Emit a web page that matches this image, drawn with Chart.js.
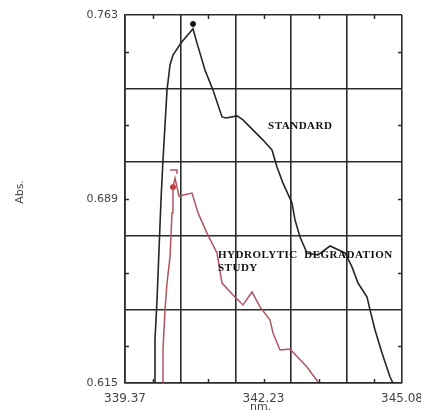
<!DOCTYPE html>
<html>
<head>
<meta charset="utf-8">
<script src="https://cdn.jsdelivr.net/npm/chart.js@4"></script>
<style>
  html, body { margin: 0; padding: 0; background: #fff; }
</style>
</head>
<body>
<canvas id="myChart" width="421" height="416"></canvas>
<script>
// axis range and tick labels (nm / Abs.)
const xMin = 339.37, xMax = 345.08;
const yMin = 0.615, yMax = 0.763;
const xTickLabels = ['339.37', '342.23', '345.08'];
const yTickLabels = ['0.615', '0.689', '0.763'];

// STANDARD spectrum
const standardX = [339.968, 339.988, 340.030, 340.071, 340.112, 340.153, 340.195, 340.236, 340.298, 340.359,
    340.524, 340.772, 340.854, 341.019, 341.184, 341.370, 341.452, 341.679, 341.802, 342.215,
    342.400, 342.503, 342.627, 342.812, 342.874, 342.978, 343.122, 343.349, 343.596, 343.905,
    344.049, 344.173, 344.359, 344.421, 344.524, 344.668, 344.833, 344.895];
const standardY = [0.615, 0.6323, 0.6484, 0.6685, 0.6886, 0.7047, 0.7188, 0.7328, 0.7429, 0.7469,
    0.7517, 0.7575, 0.7517, 0.7409, 0.7328, 0.7220, 0.7216, 0.7224, 0.7208, 0.7127,
    0.7087, 0.7019, 0.6954, 0.6874, 0.6806, 0.6737, 0.6673, 0.6665, 0.6701, 0.6673,
    0.6617, 0.6552, 0.6496, 0.6444, 0.6363, 0.6271, 0.6174, 0.615];

// HYDROLYTIC DEGRADATION STUDY spectrum
const hydroX = [340.133, 340.153, 340.195, 340.236, 340.298, 340.339, 340.359, 340.359, 340.401,
    340.483, 340.751, 340.875, 341.060, 341.266, 341.370, 341.596, 341.802, 341.988, 342.153,
    342.359, 342.421, 342.565, 342.771, 343.122, 343.349];
const hydroY = [0.615, 0.6283, 0.6444, 0.6552, 0.6657, 0.6834, 0.6898, 0.6938, 0.6974,
    0.6902, 0.6914, 0.6834, 0.6753, 0.6673, 0.6552, 0.6504, 0.6464, 0.6516, 0.6456,
    0.6403, 0.6351, 0.6283, 0.6287, 0.6214, 0.6154];
const hydroDashX = [340.298, 340.442, 340.442];
const hydroDashY = [0.7007, 0.7007, 0.6991];

// peak markers
const standardMarkX = [340.772], standardMarkY = [0.7594];
const hydroMarkX = [340.359], hydroMarkY = [0.6938];

const pts = (xs, ys) => xs.map((v, i) => ({x: v, y: ys[i]}));
const halfSteps = (lo, hi) => {
    let out = [];
    for (let k = 0; k <= 10; k++) out.push({value: lo + (hi - lo) * k / 10});
    return out;
};

const gridColor = '#2b2b2b';

const decorations = {
    id: 'decorations',
    afterDatasetsDraw(chart) {
        const {ctx, chartArea: a, scales: {x, y}} = chart;
        ctx.save();
        ctx.strokeStyle = gridColor;
        ctx.lineWidth = 1.5;
        ctx.beginPath();
        x.ticks.forEach((t, i) => {
            if (i % 2 === 0) return;
            const px = Math.round(x.getPixelForValue(t.value)) + 0.5;
            ctx.moveTo(px, a.bottom); ctx.lineTo(px, a.bottom - 4);
            ctx.moveTo(px, a.top); ctx.lineTo(px, a.top + 4);
        });
        y.ticks.forEach((t, i) => {
            if (i % 2 === 0) return;
            const py = Math.round(y.getPixelForValue(t.value)) + 0.5;
            ctx.moveTo(a.left, py); ctx.lineTo(a.left + 4, py);
            ctx.moveTo(a.right, py); ctx.lineTo(a.right - 4, py);
        });
        ctx.stroke();

        // curve labels
        ctx.fillStyle = '#111';
        ctx.font = 'bold 11px "Liberation Serif"';
        ctx.textBaseline = 'middle';
        ctx.textAlign = 'left';
        ctx.letterSpacing = '0.5px';
        ctx.fillText('STANDARD', x.getPixelForValue(342.32), y.getPixelForValue(0.7184));
        ctx.fillText('HYDROLYTIC  DEGRADATION', x.getPixelForValue(341.287), y.getPixelForValue(0.6665));
        ctx.fillText('STUDY', x.getPixelForValue(341.287), y.getPixelForValue(0.6613));
        ctx.letterSpacing = '0px';

        // axis titles
        ctx.fillStyle = '#444';
        ctx.font = '11px "DejaVu Sans"';
        ctx.textAlign = 'center';
        ctx.fillText('nm.', (a.left + a.right) / 2 - 3, 407);
        ctx.translate(20, 192);
        ctx.rotate(-Math.PI / 2);
        ctx.fillText('Abs.', 0, 0);
        ctx.restore();
    }
};

const ctx = document.getElementById('myChart');

const myChart = new Chart(ctx, {
    type: 'line',
    data: {
        datasets: [
            {
                label: 'STANDARD',
                data: pts(standardX, standardY),
                borderColor: '#262626',
                borderWidth: 1.6,
                pointRadius: 0,
                tension: 0
            },
            {
                label: 'HYDROLYTIC DEGRADATION STUDY',
                data: pts(hydroX, hydroY),
                borderColor: '#b05560',
                borderWidth: 1.5,
                pointRadius: 0,
                tension: 0
            },
            {
                label: 'dash',
                data: pts(hydroDashX, hydroDashY),
                borderColor: '#b05560',
                borderWidth: 1.5,
                pointRadius: 0
            },
            {
                label: 'standard peak',
                data: pts(standardMarkX, standardMarkY),
                showLine: false,
                pointRadius: 2.5,
                pointBackgroundColor: '#111',
                pointBorderColor: '#111'
            },
            {
                label: 'hydro peak',
                data: pts(hydroMarkX, hydroMarkY),
                showLine: false,
                pointRadius: 2.5,
                pointBackgroundColor: '#d02a2a',
                pointBorderColor: '#d02a2a'
            }
        ]
    },
    options: {
        responsive: false,
        animation: false,
        layout: { padding: { top: 15, right: 19, left: 0, bottom: 0 } },
        plugins: { legend: { display: false }, tooltip: { enabled: false } },
        scales: {
            x: {
                type: 'linear',
                min: xMin,
                max: xMax,
                afterBuildTicks: s => { s.ticks = halfSteps(xMin, xMax); },
                afterFit: s => { s.height = 33; s.paddingLeft = 0; s.paddingRight = 0; },
                grid: {
                    color: c => (c.index % 2 === 0 ? gridColor : 'rgba(0,0,0,0)'),
                    lineWidth: 1.6,
                    drawTicks: false
                },
                border: { color: gridColor, width: 1.6 },
                ticks: {
                    autoSkip: false,
                    maxRotation: 0,
                    padding: 9,
                    color: '#444',
                    font: { family: 'DejaVu Sans', size: 12 },
                    callback: (v, i) => (i % 5 === 0 ? xTickLabels[i / 5] : '')
                }
            },
            y: {
                min: yMin,
                max: yMax,
                afterBuildTicks: s => { s.ticks = halfSteps(yMin, yMax); },
                afterFit: s => { s.width = 125; s.paddingTop = 0; s.paddingBottom = 0; },
                grid: {
                    color: c => (c.index % 2 === 0 ? gridColor : 'rgba(0,0,0,0)'),
                    lineWidth: 1.6,
                    drawTicks: false
                },
                border: { color: gridColor, width: 1.6 },
                ticks: {
                    autoSkip: false,
                    padding: 7,
                    color: '#444',
                    font: { family: 'DejaVu Sans', size: 11 },
                    callback: (v, i) => (i % 5 === 0 ? yTickLabels[i / 5] : '')
                }
            }
        }
    },
    plugins: [decorations]
});
</script>
</body>
</html>
